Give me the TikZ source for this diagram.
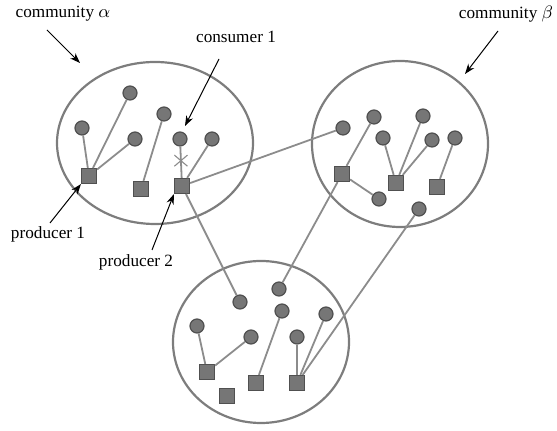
\documentclass[tikz,border=0pt]{standalone}
\usepackage{fontspec}
\setmainfont{Liberation Serif}
\usepackage{tikz}
\usepackage{xcolor}
\usetikzlibrary{arrows.meta,shapes.geometric,shapes.misc}
\definecolor{cmring}{RGB}{125,125,125}
\definecolor{cmlink}{RGB}{140,140,140}
\definecolor{cmfill}{RGB}{118,118,118}
\definecolor{cmedge}{RGB}{80,80,80}
\tikzset{
  cmcomm/.style={draw=cmring, line width=1.1pt, ellipse, inner sep=0pt},
  cmcons/.style={draw=cmedge, line width=.6pt, circle, fill=cmfill, minimum size=7pt, inner sep=0pt},
  cmprod/.style={draw=cmedge, line width=.6pt, rectangle, fill=cmfill, minimum size=7.5pt, inner sep=0pt},
  cmlink/.style={draw=cmlink, line width=.9pt},
  cmcut/.style={draw=cmlink, line width=.55pt, cross out, minimum width=6pt, minimum height=5pt, inner sep=0pt},
  cmlabel/.style={font=\fontsize{8.6}{10}\selectfont, inner sep=0pt},
  cmarr/.style={-{Stealth[length=1.8mm,width=1.3mm]}, line width=.5pt, draw=black}
}

\begin{document}
\begin{tikzpicture}[x=0.5pt, y=-0.5pt]
  \useasboundingbox (0,0) rectangle (557,431);
  % communities
  \node[cmcomm, minimum width=98pt, minimum height=81pt] (alpha) at (155,143) {};
  \node[cmcomm, minimum width=88pt, minimum height=83pt] (beta) at (400,144) {};
  \node[cmcomm, minimum width=88pt, minimum height=81pt] (gamma) at (261,342) {};
  % community alpha
  \node[cmcons] (ca1) at (130,93) {};
  \node[cmcons] (ca2) at (82,128) {};
  \node[cmcons] (ca3) at (135,139) {};
  \node[cmcons] (ca4) at (164,114) {};
  \node[cmcons] (ca5) at (180,139) {};
  \node[cmcons] (ca6) at (212,139) {};
  \node[cmprod] (pa1) at (89,176) {};
  \node[cmprod] (pa2) at (141,189) {};
  \node[cmprod] (pa3) at (182,186) {};
  % community beta
  \node[cmcons] (cb1) at (374,117) {};
  \node[cmcons] (cb2) at (343,128) {};
  \node[cmcons] (cb3) at (383,138) {};
  \node[cmcons] (cb4) at (423,116) {};
  \node[cmcons] (cb5) at (432,140) {};
  \node[cmcons] (cb6) at (455,138) {};
  \node[cmcons] (cb7) at (379,199) {};
  \node[cmcons] (cb8) at (419,209) {};
  \node[cmprod] (pb1) at (342,174) {};
  \node[cmprod] (pb2) at (396,183) {};
  \node[cmprod] (pb3) at (437,187) {};
  % community gamma
  \node[cmcons] (cg1) at (240,302) {};
  \node[cmcons] (cg2) at (279,289) {};
  \node[cmcons] (cg3) at (197,326) {};
  \node[cmcons] (cg4) at (251,337) {};
  \node[cmcons] (cg5) at (282,311) {};
  \node[cmcons] (cg6) at (297,337) {};
  \node[cmcons] (cg7) at (326,314) {};
  \node[cmprod] (pg1) at (207,372) {};
  \node[cmprod] (pg2) at (227,396) {};
  \node[cmprod] (pg3) at (256,383) {};
  \node[cmprod] (pg4) at (297,383) {};
  % links
  \draw[cmlink] (pa1) -- (ca2);
  \draw[cmlink] (pa1) -- (ca1);
  \draw[cmlink] (pa1) -- (ca3);
  \draw[cmlink] (pa2) -- (ca4);
  \draw[cmlink] (pa3) -- node[cmcut, pos=.55] (cut) {} (ca5);
  \draw[cmlink] (pa3) -- (ca6);
  \draw[cmlink] (pa3) -- (cb2);
  \draw[cmlink] (pa3) -- (cg1);
  \draw[cmlink] (pb1) -- (cb1);
  \draw[cmlink] (pb1) -- (cb7);
  \draw[cmlink] (pb1) -- (cg2);
  \draw[cmlink] (pb2) -- (cb3);
  \draw[cmlink] (pb2) -- (cb4);
  \draw[cmlink] (pb2) -- (cb5);
  \draw[cmlink] (pb3) -- (cb6);
  \draw[cmlink] (pg1) -- (cg3);
  \draw[cmlink] (pg1) -- (cg4);
  \draw[cmlink] (pg3) -- (cg5);
  \draw[cmlink] (pg4) -- (cg6);
  \draw[cmlink] (pg4) -- (cg7);
  \draw[cmlink] (pg4) -- (cb8);
  % labels
  \node[cmlabel] (lalpha) at (63,14) {community $\alpha$};
  \node[cmlabel] (lbeta) at (506,14) {community $\beta$};
  \node[cmlabel] (lcons) at (236,37) {consumer 1};
  \node[cmlabel] (lprod1) at (48,234) {producer 1};
  \node[cmlabel] (lprod2) at (136,262) {producer 2};
  \coordinate (talpha) at (80,63);
  \coordinate (tbeta) at (465,74);
  \coordinate (tcons) at (185,126);
  \draw[cmarr] (47,30) -- (talpha);
  \draw[cmarr] (498,31) -- (tbeta);
  \draw[cmarr] (219,59) -- (tcons);
  \draw[cmarr] (50,223) -- (pa1.south west);
  \draw[cmarr] (152,250) -- (pa3.south west);
\end{tikzpicture}
\end{document}
